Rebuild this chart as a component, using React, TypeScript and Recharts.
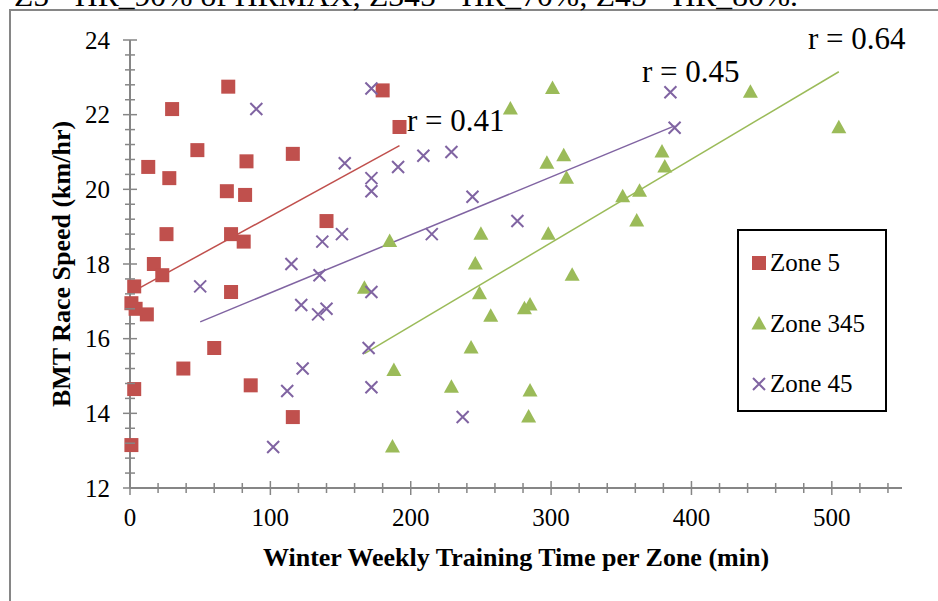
import React from "react"
import { Label, Legend, ReferenceLine, Scatter, ScatterChart, XAxis, YAxis } from "recharts"

// Zone 5 (red squares)
const zone5X = [1, 3, 1, 4, 12, 3, 17, 23, 26, 72, 81, 140, 82, 69, 28, 13, 83, 116, 48, 192, 30, 70, 180, 72, 60, 38, 86, 116]
const zone5Y = [13.15, 14.65, 16.95, 16.8, 16.65, 17.4, 18.0, 17.7, 18.8, 18.8, 18.6, 19.15, 19.85, 19.95, 20.3, 20.6, 20.75, 20.95, 21.05, 21.67, 22.15, 22.75, 22.65, 17.25, 15.75, 15.2, 14.75, 13.9]

// Zone 345 (green triangles)
const zone345X = [301, 271, 297, 309, 311, 185, 250, 298, 246, 315, 167, 249, 285, 281, 257, 243, 188, 229, 285, 284, 187, 442, 505, 379, 381, 363, 351, 361]
const zone345Y = [22.7, 22.15, 20.7, 20.9, 20.3, 18.6, 18.8, 18.8, 18.0, 17.7, 17.35, 17.2, 16.9, 16.8, 16.6, 15.75, 15.15, 14.7, 14.6, 13.9, 13.1, 22.6, 21.65, 21.0, 20.6, 19.95, 19.8, 19.15]

// Zone 45 (purple crosses)
const zone45X = [50, 135, 172, 122, 134, 140, 170, 123, 112, 172, 102, 90, 172, 153, 191, 172, 172, 151, 137, 115, 209, 229, 244, 276, 215, 237, 385, 388]
const zone45Y = [17.4, 17.7, 17.25, 16.9, 16.65, 16.8, 15.75, 15.2, 14.6, 14.7, 13.1, 22.15, 22.7, 20.7, 20.6, 20.3, 19.95, 18.8, 18.6, 18.0, 20.9, 21.0, 19.8, 19.15, 18.8, 13.9, 22.6, 21.65]

// trend line end points
const trend5X = [1, 192]
const trend5Y = [17.24, 21.17]
const trend345X = [167, 505]
const trend345Y = [15.6, 23.15]
const trend45X = [50, 388]
const trend45Y = [16.45, 21.7]

const xTickLabels = [0, 100, 200, 300, 400, 500]
const yTickLabels = [12, 14, 16, 18, 20, 22, 24]
const rLabels = ["r = 0.41", "r = 0.45", "r = 0.64"]
const seriesNames = ["Zone 5", "Zone 345", "Zone 45"]
const topNote = "Z5= HR_90% of HRMAX; Z345= HR_70%; Z45= HR_80%."

const RED = "#C0504D"
const GREEN = "#9BBB59"
const PURPLE = "#8064A2"
const AXIS = "#868686"
const FONT = "'Liberation Serif', 'Times New Roman', serif"

const PLOT_LEFT = 130
const PLOT_BOTTOM = 488

// minor ticks every 20 min / 0.4 km/h
const xTicks: number[] = []
for (let v = 0; v <= 540; v += 20) xTicks.push(v)
const yTicks: number[] = []
for (let i = 0; i <= 30; i++) yTicks.push(Math.round((12 + i * 0.4) * 10) / 10)

const toPoints = (xs: number[], ys: number[]) => xs.map((x, i) => ({ x, y: ys[i] }))
const zone5 = toPoints(zone5X, zone5Y)
const zone345 = toPoints(zone345X, zone345Y)
const zone45 = toPoints(zone45X, zone45Y)

const Square = ({ cx, cy }: any) => <rect x={cx - 7} y={cy - 7} width={14} height={14} fill={RED} />
const Triangle = ({ cx, cy }: any) => (
  <polygon points={`${cx},${cy - 8} ${cx + 7.5},${cy + 5.5} ${cx - 7.5},${cy + 5.5}`} fill={GREEN} />
)
const Cross = ({ cx, cy }: any) => (
  <path d={`M${cx - 6},${cy - 6}L${cx + 6},${cy + 6}M${cx + 6},${cy - 6}L${cx - 6},${cy + 6}`} stroke={PURPLE} strokeWidth={2} fill="none" />
)

function XTick({ x, payload }: any) {
  const major = xTickLabels.includes(payload.value)
  const len = major ? 7 : 5
  return (
    <g>
      <line x1={x} x2={x} y1={PLOT_BOTTOM - len} y2={PLOT_BOTTOM + len} stroke={AXIS} strokeWidth={1.5} />
      {major && (
        <text x={x} y={517} dy="0.35em" textAnchor="middle" style={{ fontFamily: FONT }} fontSize={25} fill="#000">
          {payload.value}
        </text>
      )}
    </g>
  )
}

function YTick({ y, payload }: any) {
  const major = yTickLabels.includes(payload.value)
  const len = major ? 7 : 5
  return (
    <g>
      <line x1={PLOT_LEFT - len} x2={PLOT_LEFT + len} y1={y} y2={y} stroke={AXIS} strokeWidth={1.5} />
      {major && (
        <text x={110} y={y} dy="0.35em" textAnchor="end" style={{ fontFamily: FONT }} fontSize={25} fill="#000">
          {payload.value}
        </text>
      )}
    </g>
  )
}

function LegendBox() {
  const markers = [
    <rect key="s" x={1} y={1} width={14} height={14} fill={RED} />,
    <polygon key="t" points="8,0 15.5,13.5 0.5,13.5" fill={GREEN} />,
    <path key="c" d="M2,2L14,14M14,2L2,14" stroke={PURPLE} strokeWidth={2} fill="none" />,
  ]
  const rows = [32, 93, 153]
  return (
    <div style={{ position: "relative", width: 150, height: 183, border: "2px solid #000", boxSizing: "border-box", background: "#fff", fontFamily: FONT }}>
      {seriesNames.map((name, i) => (
        <div key={name} style={{ position: "absolute", left: 12, top: rows[i] - 16, height: 32, display: "flex", alignItems: "center" }}>
          <svg width={16} height={16} style={{ display: "block" }}>{markers[i]}</svg>
          <span style={{ fontFamily: FONT, fontSize: 25, marginLeft: 3, color: "#000", lineHeight: "32px" }}>{name}</span>
        </div>
      ))}
    </div>
  )
}

export default function App() {
  return (
    <div style={{ position: "absolute", left: 0, top: 0, width: 938, height: 601, background: "#fff", overflow: "hidden", fontFamily: FONT }}>
      <div style={{ position: "absolute", left: 9, top: 9, right: -10, bottom: -10, borderLeft: `2px solid ${AXIS}`, borderTop: `2px solid ${AXIS}` }} />
      <ScatterChart width={938} height={601} margin={{ top: 40, right: 36, left: 0, bottom: 0 }}>
        <XAxis
          dataKey="x"
          type="number"
          domain={[0, 550]}
          ticks={xTicks}
          interval={0}
          tick={<XTick />}
          tickLine={false}
          axisLine={{ stroke: AXIS, strokeWidth: 2 }}
          height={113}
        >
          <Label
            content={({ viewBox }: any) => (
              <text x={viewBox.x + viewBox.width / 2} y={557} dy="0.35em" textAnchor="middle" style={{ fontFamily: FONT }} fontSize={26} fontWeight="bold" fill="#000">
                Winter Weekly Training Time per Zone (min)
              </text>
            )}
          />
        </XAxis>
        <YAxis
          dataKey="y"
          type="number"
          domain={[12, 24]}
          ticks={yTicks}
          interval={0}
          tick={<YTick />}
          tickLine={false}
          axisLine={{ stroke: AXIS, strokeWidth: 2 }}
          width={130}
        >
          <Label
            content={({ viewBox }: any) => {
              const cy = viewBox.y + viewBox.height / 2
              return (
                <text transform={`translate(61,${cy}) rotate(-90)`} dy="0.35em" textAnchor="middle" style={{ fontFamily: FONT }} fontSize={26} fontWeight="bold" fill="#000">
                  BMT Race Speed (km/hr)
                </text>
              )
            }}
          />
        </YAxis>
        <Scatter name={seriesNames[0]} data={zone5} shape={<Square />} isAnimationActive={false} />
        <Scatter name={seriesNames[1]} data={zone345} shape={<Triangle />} isAnimationActive={false} />
        <Scatter name={seriesNames[2]} data={zone45} shape={<Cross />} isAnimationActive={false} />
        <ReferenceLine segment={toPoints(trend5X, trend5Y)} stroke={RED} strokeWidth={1.5} />
        <ReferenceLine segment={toPoints(trend345X, trend345Y)} stroke={GREEN} strokeWidth={1.5} />
        <ReferenceLine segment={toPoints(trend45X, trend45Y)} stroke={PURPLE} strokeWidth={1.5} />
        <Legend
          layout="horizontal"
          verticalAlign="middle"
          align="center"
          wrapperStyle={{ left: 737, top: 229, width: 150, height: 183 }}
          content={() => <LegendBox />}
        />
      </ScatterChart>
      <svg width={938} height={601} style={{ position: "absolute", left: 0, top: 0, pointerEvents: "none" }}>
        <text x={14} y={6} style={{ fontFamily: FONT }} fontSize={30} textLength={784} lengthAdjust="spacingAndGlyphs" fill="#000">
          {topNote}
        </text>
        <text x={407} y={131} style={{ fontFamily: FONT }} fontSize={31} fill="#000">{rLabels[0]}</text>
        <text x={642} y={82} style={{ fontFamily: FONT }} fontSize={31} fill="#000">{rLabels[1]}</text>
        <text x={808} y={49} style={{ fontFamily: FONT }} fontSize={31} fill="#000">{rLabels[2]}</text>
      </svg>
    </div>
  )
}
